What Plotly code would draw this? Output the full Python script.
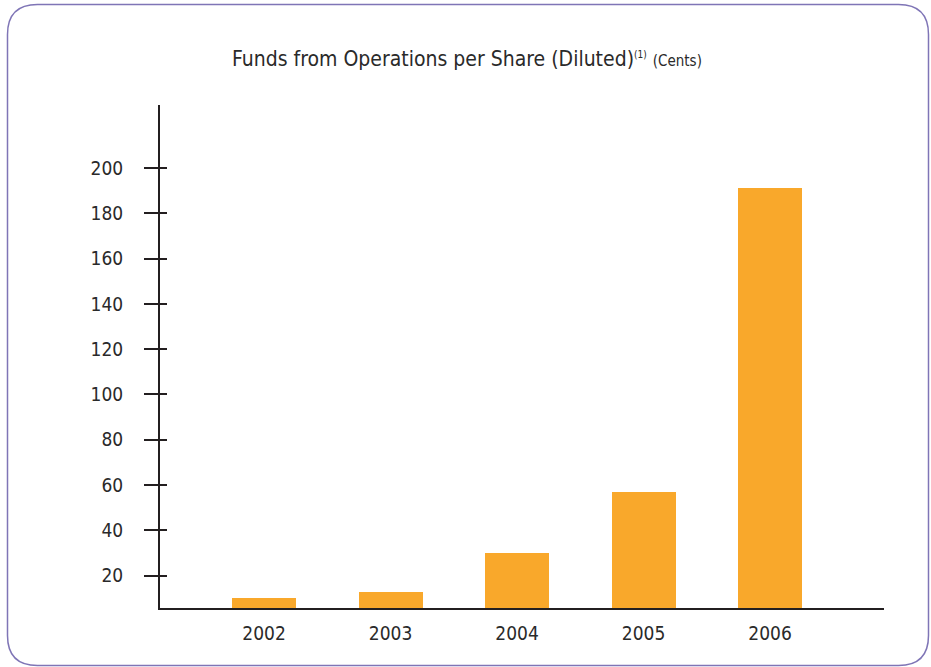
import plotly.graph_objects as go

years = ["2002", "2003", "2004", "2005", "2006"]
ffo_cents = [10, 13, 30, 57, 191]
y_ticks = [20, 40, 60, 80, 100, 120, 140, 160, 180, 200]

W, H = 931, 667
L, R, T, B = 160, 47, 105, 59
font_family = "DejaVu Sans Condensed, Liberation Sans Narrow, Arial Narrow, sans-serif"
text_color = "#2a2a2a"
axis_color = "#231f20"
bar_color = "#F9A82B"
yrange = [5.74, 227.8]

fig = go.Figure()
fig.add_trace(go.Bar(x=years, y=ffo_cents, marker=dict(color=bar_color, line=dict(width=0)),
                     width=0.506, showlegend=False, hoverinfo="x+y"))
# invisible trace to host the inside half of the crossing ticks
fig.add_trace(go.Scatter(x=[years[0]], y=[ffo_cents[0]], yaxis="y2", mode="markers",
                         marker=dict(opacity=0), showlegend=False, hoverinfo="skip"))

fig.update_layout(
    width=W, height=H,
    margin=dict(l=L, r=R, t=T, b=B, pad=0),
    paper_bgcolor="white", plot_bgcolor="white",
    font=dict(family=font_family, color=text_color),
    title=dict(
        text="Funds from Operations per Share (Diluted)<sup><span style='font-size:10px'>(1)</span></sup>"
             " <span style='font-size:15px'>(Cents)</span>",
        x=467 / W, xanchor="center", xref="container",
        y=1 - 59 / H, yanchor="middle", yref="container",
        font=dict(size=21, family=font_family, color=text_color),
    ),
    xaxis=dict(
        type="category", range=[-0.822, 4.90],
        showline=True, linecolor=axis_color, linewidth=2,
        ticks="", showgrid=False, zeroline=False,
        tickfont=dict(size=19, family=font_family, color=text_color),
        ticklabelstandoff=7,
    ),
    yaxis=dict(
        range=yrange, tickvals=y_ticks,
        showline=True, linecolor=axis_color, linewidth=2,
        ticks="outside", ticklen=14, tickwidth=2, tickcolor=axis_color,
        showgrid=False, zeroline=False,
        tickfont=dict(size=19, family=font_family, color=text_color),
        ticklabelstandoff=17,
    ),
    yaxis2=dict(
        overlaying="y", side="left", range=yrange, tickvals=y_ticks,
        ticks="inside", ticklen=7, tickwidth=2, tickcolor=axis_color,
        showticklabels=False, showline=False, showgrid=False, zeroline=False,
    ),
    bargap=0,
)

# rounded border around the whole chart (paper coordinates derived from pixels)
pw, ph = W - L - R, H - T - B
def px(x):
    return (x - L) / pw
def py(y):
    return (H - B - y) / ph
x0, x1, y0, y1, r = 7.5, 928.5, 4.5, 665.5, 30
path = (f"M {px(x0 + r)} {py(y0)} L {px(x1 - r)} {py(y0)} "
        f"Q {px(x1)} {py(y0)} {px(x1)} {py(y0 + r)} "
        f"L {px(x1)} {py(y1 - r)} Q {px(x1)} {py(y1)} {px(x1 - r)} {py(y1)} "
        f"L {px(x0 + r)} {py(y1)} Q {px(x0)} {py(y1)} {px(x0)} {py(y1 - r)} "
        f"L {px(x0)} {py(y0 + r)} Q {px(x0)} {py(y0)} {px(x0 + r)} {py(y0)} Z")
fig.add_shape(type="path", path=path, xref="paper", yref="paper",
              line=dict(color="#7f75b6", width=1.5), layer="below")

fig.write_html("out.html")
